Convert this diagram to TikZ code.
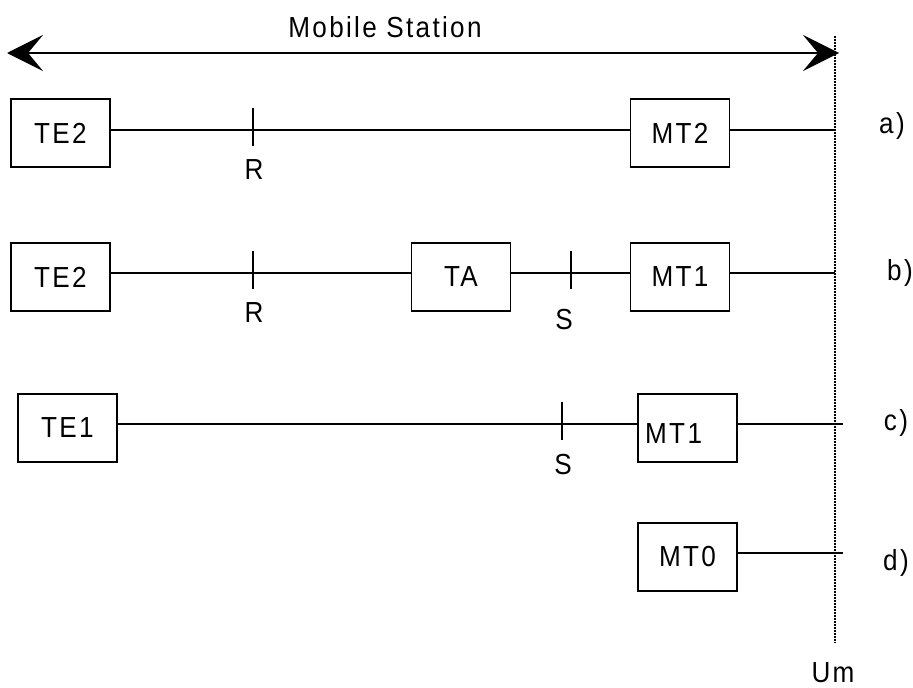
\documentclass[tikz,border=0pt]{standalone}
\usepackage{fontspec}
\setmainfont{Liberation Sans}[FakeStretch=0.9,LetterSpace=8]
\usetikzlibrary{arrows.meta}
\begin{document}
\begin{tikzpicture}[x=1pt,y=-1pt,
  box/.style={draw,line width=1.8pt,minimum width=99pt,minimum height=68pt,inner sep=0pt,font=\fontsize{29}{34}\selectfont},
  txt/.style={inner sep=0pt,font=\fontsize{29}{34}\selectfont},
  wire/.style={line width=2pt},
  tickmark/.style={line width=2pt},
  bigarrow/.style={line width=2.2pt,{Stealth[length=36pt,width=36pt,inset=15pt]}-{Stealth[length=36pt,width=36pt,inset=15pt]}},
  umline/.style={line width=1.6pt,dash pattern=on 1.5pt off 1.5pt}]
\useasboundingbox (0,0) rectangle (913,688);

% top arrow
\coordinate (msl) at (7,53);
\coordinate (msr) at (839,53);
\draw[bigarrow] (msl) -- (msr);
\node[txt] (mstitle) at (385,27) {Mobile Station};

% Um reference line
\coordinate (umtop) at (835,36);
\coordinate (umbot) at (835,643);
\draw[umline] (umtop) -- (umbot);
\node[txt] (umlabel) at (833,673) {Um};

% row a
\node[box] (te2a) at (60.5,133) {TE2};
\node[box] (mt2) at (680,133) {MT2};
\coordinate (ra) at (253,130);
\coordinate (enda) at (835,130);
\draw[wire] ([yshift=3pt]te2a.east) -- ([yshift=3pt]mt2.west);
\draw[wire] ([yshift=3pt]mt2.east) -- (enda);
\draw[tickmark] ([yshift=22pt]ra) -- ([yshift=-16pt]ra);
\node[txt] (rlabela) at (254,170) {R};
\node[txt] (labela) at (892,126) {a)};

% row b
\node[box] (te2b) at (60.5,277) {TE2};
\node[box] (ta) at (461,277) {TA};
\node[box] (mt1b) at (680,277) {MT1};
\coordinate (rb) at (253,273);
\coordinate (sb) at (571,273);
\coordinate (endb) at (835,273);
\draw[wire] ([yshift=4pt]te2b.east) -- ([yshift=4pt]ta.west);
\draw[wire] ([yshift=4pt]ta.east) -- ([yshift=4pt]mt1b.west);
\draw[wire] ([yshift=4pt]mt1b.east) -- (endb);
\draw[tickmark] ([yshift=22pt]rb) -- ([yshift=-16pt]rb);
\draw[tickmark] ([yshift=22pt]sb) -- ([yshift=-16pt]sb);
\node[txt] (rlabelb) at (254,313) {R};
\node[txt] (slabelb) at (564,320) {S};
\node[txt] (labelb) at (900,273) {b)};

% row c
\node[box] (te1) at (67.5,428) {TE1};
\node[box] (mt1c) at (687.5,428) {};
\node[txt,anchor=west] (mt1ctext) at (645,434) {MT1};
\coordinate (sc) at (562,424);
\coordinate (endc) at (843,424);
\draw[wire] ([yshift=4pt]te1.east) -- ([yshift=4pt]mt1c.west);
\draw[wire] ([yshift=4pt]mt1c.east) -- (endc);
\draw[tickmark] ([yshift=22pt]sc) -- ([yshift=-16pt]sc);
\node[txt] (slabelc) at (563,465) {S};
\node[txt] (labelc) at (896,423) {c)};

% row d
\node[box] (mt0) at (687.5,557) {MT0};
\coordinate (endd) at (843,553);
\draw[wire] ([yshift=4pt]mt0.east) -- (endd);
\node[txt] (labeld) at (896,563) {d)};
\end{tikzpicture}
\end{document}
